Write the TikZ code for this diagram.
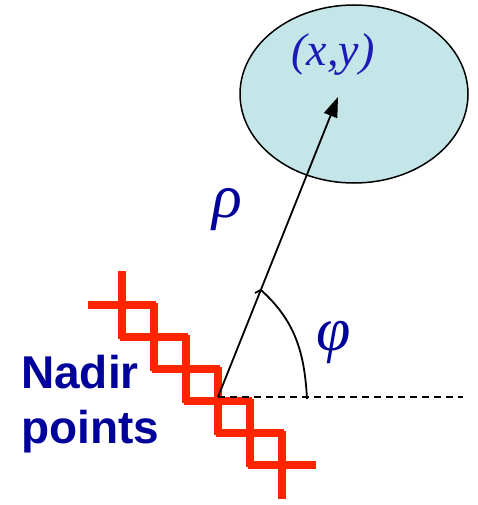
\documentclass[tikz,border=0pt]{standalone}
\usepackage{fontspec}
\setmainfont{Liberation Serif}
\setsansfont{Liberation Sans}
\usepackage{tikz}
\usetikzlibrary{arrows.meta,positioning,calc,shapes.geometric}
\definecolor{pcyan}{HTML}{C5E6E8}
\definecolor{pnavy}{HTML}{00009A}
\definecolor{pblue}{HTML}{1C1CB4}
\definecolor{pred}{HTML}{FF2400}
\tikzset{
  % region around the target point
  zone/.style  = {ellipse, draw=black, fill=pcyan, line width=1.5pt,
                  minimum width=228pt, minimum height=178pt, inner sep=0pt},
  ray/.style   = {-{Triangle[length=20pt,width=14pt]}, line width=1.8pt, black},
  axis/.style  = {line width=1.5pt, dash pattern=on 7pt off 5pt},
  sym/.style   = {text=pnavy, inner sep=0pt, font=\itshape\fontsize{62}{62}\selectfont},
  nadir/.style = {line width=8pt, pred},
  lbl/.style   = {text=pnavy, inner sep=0pt, align=left,
                  font=\sffamily\bfseries\fontsize{46}{55}\selectfont},
}

\begin{document}
\begin{tikzpicture}[x=1pt,y=-1pt]
\useasboundingbox (0,0) rectangle (477,505);
\node[zone] (zone) at (354,94) {};
\node[text=pblue, inner sep=0pt, font=\itshape\fontsize{46}{46}\selectfont] (xy) at (333,55) {(x,y)};
% nadir crosses
\foreach \i in {0,...,5}
  \draw[nadir] (121.5+32*\i-34,305+32*\i) -- ++(68,0)
               (121.5+32*\i,305+32*\i-34) -- ++(0,68);
\coordinate (o) at (218,397);
\coordinate (tip) at (338,97);
\coordinate (east) at (463,397);
\draw[ray] (o) -- (tip);
\draw[axis] (o) -- (east);
\coordinate (a0) at ($(o)!0.357!(tip)$);
\coordinate (a1) at (307,399);
\draw[line width=1.8pt] (255,293) -- (a0) to[out=-42,in=93] (a1);
\node[sym] (rho) at (227,210) {ρ};
\node[sym] (phi) at (334,342) {φ};
\node[lbl, anchor=north west] (pts) at (21,355) {Nadir\\points};
\end{tikzpicture}
\end{document}
